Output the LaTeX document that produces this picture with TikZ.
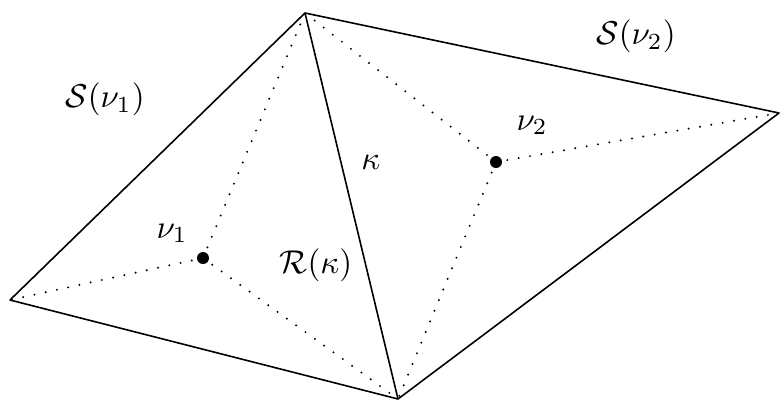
\documentclass[tikz,border=0pt]{standalone}
\begin{document}
\begin{tikzpicture}[x=1pt,y=-1pt,
  edge/.style={line width=1.6pt, line join=round},
  dual/.style={line width=2.2pt, line cap=round, dash pattern=on 0pt off 11.5pt},
  lbl/.style={inner sep=0pt, scale=3.3},
  site/.style={circle, fill=black, inner sep=0pt, minimum size=12pt}]
\useasboundingbox (0,0) rectangle (781,402);
\coordinate (T) at (305,13);
\coordinate (R) at (779,113);
\coordinate (B) at (398,399);
\coordinate (L) at (10,300);
\node[site] (n1) at (203,258) {};
\node[site] (n2) at (496,162) {};
\draw[edge] (T) -- (R) -- (B) -- (L) -- cycle;
\draw[edge] (T) -- (B);
\draw[dual] (n1.center) -- (T);
\draw[dual] (n1.center) -- (L);
\draw[dual] (n1.center) -- (B);
\draw[dual] (n2.center) -- (T);
\draw[dual] (n2.center) -- (R);
\draw[dual] (n2.center) -- (B);
\node[lbl] (s1) at (105,99) {$\mathcal{S}(\nu_1)$};
\node[lbl] (s2) at (636,36) {$\mathcal{S}(\nu_2)$};
\node[lbl] (rk) at (316,265) {$\mathcal{R}(\kappa)$};
\node[lbl] (k) at (371,162) {$\kappa$};
\node[lbl, anchor=base west] (l1) at (156,238) {$\nu_1$};
\node[lbl, anchor=base west] (l2) at (516,130) {$\nu_2$};
\end{tikzpicture}
\end{document}
